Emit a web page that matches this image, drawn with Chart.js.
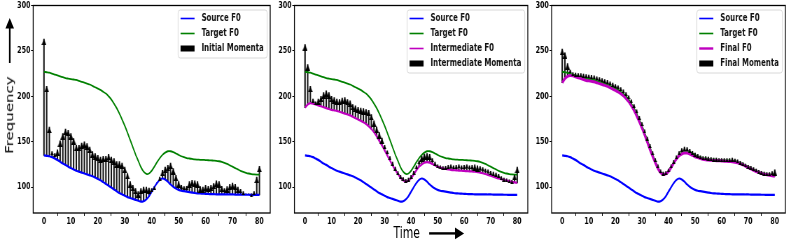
<!DOCTYPE html>
<html>
<head>
<meta charset="utf-8">
<script src="https://cdn.jsdelivr.net/npm/chart.js@4.4.1/dist/chart.umd.min.js"></script>
<style>
  html, body { margin: 0; padding: 0; background: #fff; overflow: hidden; }
  /* the figure is laid out wide and squeezed horizontally, like the original */
  #fig { position: absolute; left: 0; top: 0; width: 1127px; height: 245px;
         transform: scaleX(0.7); transform-origin: 0 0; }
  #fig canvas { position: absolute; top: 0; }
  .lbl { position: absolute; font-family: 'DejaVu Sans', sans-serif; color: #000;
         white-space: nowrap; line-height: 1; }
  #ylab { left: 13.9px; top: 115px; font-size: 15px; transform: translate(-50%, -50%) rotate(-90deg); }
  #xlab { left: 562px; top: 226.2px; font-size: 15.5px; }
</style>
</head>
<body>
<div id="fig">
  <canvas id="c1" width="391" height="245" style="left:0px"></canvas>
  <canvas id="c2" width="367" height="245" style="left:392px"></canvas>
  <canvas id="c3" width="367" height="245" style="left:760px"></canvas>
  <div class="lbl" id="ylab">Frequency</div>
  <div class="lbl" id="xlab">Time</div>
  <svg width="1127" height="245" style="position:absolute;left:0;top:0">
    <line x1="13.9" y1="63" x2="13.9" y2="27" stroke="#000" stroke-width="2.4"/>
    <polygon points="13.9,18 20,28.5 7.8,28.5" fill="#000"/>
    <line x1="613" y1="233.4" x2="651" y2="233.4" stroke="#000" stroke-width="2.4"/>
    <polygon points="663,233.4 650,227.6 650,239.2" fill="#000"/>
  </svg>
</div>
<script>
const X_TICKS = [0, 10, 20, 30, 40, 50, 60, 70, 80];
const Y_TICKS = [100, 150, 200, 250, 300];

const SOURCE_F0 = [
  135, 134.5, 134, 133, 131.5, 130, 128, 126, 124.5, 122.5,
  121, 119.5, 118, 117, 116, 115, 114, 113, 112, 110.5,
  109, 107.5, 105.5, 103.5, 101.5, 99.5, 97.5, 95.5, 93.5, 92,
  90.5, 89, 88, 87, 86, 85, 84, 84.5, 86.5, 90,
  95, 100, 104.5, 108, 109.5, 108.5, 106, 103, 100.5, 98.5,
  97, 96, 95.5, 95, 94.5, 94, 93.5, 93.2, 93, 92.8,
  92.6, 92.4, 92.3, 92.2, 92.1, 92, 92, 92, 92, 91.9,
  91.9, 91.8, 91.8, 91.7, 91.7, 91.6, 91.6, 91.5, 91.5, 91.5,
  91.5];

const TARGET_F0 = [
  227, 226.5, 226, 225, 224, 223, 222, 221, 220, 219.5,
  219, 218.5, 218, 217, 216, 215, 214, 213, 211.5, 210,
  208.5, 207, 205, 203, 200, 196.5, 192, 187, 181, 174.5,
  167.5, 160, 152, 144, 136, 129, 122, 117, 114.5, 115,
  118, 122.5, 127.5, 132, 135.5, 138, 139.5, 139.5, 138.5, 137,
  135.5, 134, 133, 132, 131.5, 131, 130.5, 130.3, 130.1, 130,
  129.8, 129.6, 129.4, 129.2, 129, 128.5, 127.8, 126.8, 125.5, 124,
  122.5, 121, 119.5, 118, 116.8, 115.8, 115, 114.4, 114, 113.8,
  113.7];

const INTERMEDIATE_F0 = [
  187.5, 191, 192.5, 192, 191, 190, 189, 188, 187, 186,
  185, 184.5, 184, 183, 182, 181, 180, 179, 177.5, 176,
  174.5, 173, 171.5, 169.5, 167, 164, 160.5, 156, 151, 146,
  140.5, 135, 129.5, 124, 119, 114.5, 110.5, 107.5, 106, 107,
  110, 114, 118.5, 122.5, 125, 127, 127.5, 127, 125.5, 124,
  122.5, 121.5, 120.5, 120, 119.5, 119, 118.7, 118.5, 118.2, 118,
  117.8, 117.6, 117.4, 117.2, 117, 116.5, 116, 115.3, 114.5, 113.5,
  112.5, 111.5, 110.5, 109.5, 108.7, 108, 107.2, 106.5, 105.8, 105.2,
  104.7];

const FINAL_F0 = [
  215, 219.5, 222, 223, 222.5, 221.5, 220.5, 219.5, 218.5, 217.5,
  217, 216.5, 216, 215, 214, 213, 212, 211, 209.5, 208,
  206.5, 205, 203, 200.5, 197.5, 194, 189.5, 184.5, 178.5, 172,
  165, 157.5, 149.5, 141.5, 134, 127, 120.5, 116, 114, 114.5,
  117, 121.5, 126.5, 131, 134.5, 136.5, 137.5, 137.5, 136.5, 135,
  133.5, 132.5, 131.5, 130.7, 130.2, 129.8, 129.5, 129.3, 129.1, 129,
  128.8, 128.6, 128.4, 128.2, 128, 127.5, 126.8, 125.8, 124.5, 123,
  121.5, 120, 118.5, 117, 116, 115, 114.2, 113.6, 113, 112.5,
  112];

// arrow tip values (F0 + momentum) for each panel
const INITIAL_TIPS = [
  263, 211, 166, 139, 137, 141, 151, 159, 164, 162.5,
  159, 153.5, 146, 146, 148.5, 150, 148, 144, 139, 137,
  135, 133, 134, 134, 136, 133, 131.5, 128, 128, 126.5,
  122, 115, 106, 102, 98.5, 95, 98.5, 100, 100, 99,
  98.5, 101, 105, 111, 118.5, 122, 124, 126.5, 120.5, 113,
  106, 102, 100.5, 101, 106, 107.5, 107, 106, 100.5, 100,
  102, 101, 102, 104, 107, 106, 101, 98.5, 100.5, 103,
  104.5, 103, 100, 97.5, 95, 92.5, 92.5, 92.5, 95, 111,
  123];

const INTERMEDIATE_TIPS = [
  257, 235, 211, 197, 194, 197, 200, 204, 206, 204,
  200, 198.5, 197, 196.5, 198, 198.5, 196.5, 195, 191, 189.5,
  188, 187, 186.5, 185.5, 184.5, 180, 173, 166, 160, 154,
  146, 140, 133.5, 127.5, 122, 117, 113, 110.5, 108.5, 110,
  113, 117.5, 123.5, 129, 134.5, 136.5, 137, 136, 131.5, 127.5,
  124.5, 123.5, 122.5, 123, 124, 124.5, 123.5, 124, 124.5, 123.5,
  124, 124.5, 123.5, 124, 124.5, 123.5, 122.5, 121.5, 120, 119,
  117.5, 116.5, 115.5, 114, 111.5, 110, 109, 108, 107.5, 114,
  122];

const FINAL_TIPS = [
  252, 248, 236, 229, 226, 225.5, 225, 225, 224.5, 224,
  223.5, 223, 222.5, 221.5, 220.5, 219.5, 218.5, 217.5, 216, 214.5,
  213, 211.5, 209.5, 207, 204, 200.5, 196, 191, 185, 178,
  171, 163, 155, 147, 139, 131.5, 124.5, 119, 116.5, 117,
  120, 124.5, 129.5, 134.5, 139, 142.5, 144, 143.5, 141.5, 139.5,
  137.5, 136, 134.5, 133.5, 133.5, 133, 132.5, 132, 132, 131.5,
  131.5, 131.5, 131.5, 131.5, 132, 131, 130, 128.5, 127, 125.5,
  124, 123, 121.5, 120, 118.5, 117.5, 116.5, 116, 116, 117,
  119];

const FRAMES = SOURCE_F0.map((_, i) => i);

const LEGEND_1 = ['Source F0', 'Target F0', 'Initial Momenta'];
const LEGEND_2 = ['Source F0', 'Target F0', 'Intermediate F0', 'Intermediate Momenta'];
const LEGEND_3 = ['Source F0', 'Target F0', 'Final F0', 'Final Momenta'];

const BLUE = '#0000ff';
const GREEN = '#008000';
const MAGENTA = '#bf00bf';
const STEM = '#151515';

const TICK_FONT = { family: "'DejaVu Sans', sans-serif", size: 9, weight: 'bold', lineHeight: 1 };

function makeHead(w, h) {
  const c = document.createElement('canvas');
  c.width = w; c.height = 2 * h;
  const g = c.getContext('2d');
  g.fillStyle = '#000';
  g.beginPath();
  g.moveTo(w / 2, h);
  g.lineTo(w, 2 * h);
  g.lineTo(0, 2 * h);
  g.closePath();
  g.fill();
  return c;
}
const BIG_HEAD = makeHead(7, 6);
const SMALL_HEAD = makeHead(5, 3.5);

const figLegend = {
  id: 'figLegend',
  afterDraw(chart, args, opts) {
    const { ctx, chartArea: a } = chart;
    const items = opts.items;
    ctx.save();
    ctx.strokeStyle = '#000';
    ctx.lineWidth = 1.3;
    ctx.strokeRect(a.left, a.top, a.right - a.left, a.bottom - a.top);

    ctx.font = "bold 10px 'DejaVu Sans'";
    const textW = Math.max(...items.map(it => ctx.measureText(it.text).width));
    const padL = 3.5, handleW = 20, gap = 10, padR = 5, rowH = 15;
    const w = padL + handleW + gap + textW + padR;
    const right = a.right - 4.3;
    const left = right - w;
    const top = a.top + 4.5;
    const h = 8.5 + (items.length - 1) * rowH + 9.5;
    ctx.fillStyle = 'rgba(255,255,255,0.85)';
    ctx.strokeStyle = '#d8d8d8';
    ctx.lineWidth = 1;
    ctx.beginPath();
    ctx.roundRect(left, top, w, h, 3);
    ctx.fill();
    ctx.stroke();

    items.forEach((it, i) => {
      const y = top + 8.5 + i * rowH;
      const hx = left + padL;
      if (it.kind === 'line') {
        ctx.strokeStyle = it.color;
        ctx.lineWidth = it.width;
        ctx.beginPath();
        ctx.moveTo(hx, y);
        ctx.lineTo(hx + handleW, y);
        ctx.stroke();
      } else {
        ctx.fillStyle = '#000';
        ctx.fillRect(hx, y - 3, handleW, 6);
      }
      ctx.fillStyle = '#111';
      ctx.textBaseline = 'middle';
      ctx.textAlign = 'left';
      ctx.fillText(it.text, hx + handleW + gap, y);
    });
    ctx.restore();
  }
};

function panel(id, axisW, padRight, lines, base, tips, labels) {
  const datasets = [];
  datasets.push({
    type: 'bar',
    data: FRAMES.map((t, i) => ({ x: t, y: [base[i], tips[i]] })),
    backgroundColor: STEM,
    borderWidth: 0,
    barThickness: 1.4,
    order: 9
  });
  lines.forEach((l, k) => {
    datasets.push({
      type: 'line',
      data: FRAMES.map((t, i) => ({ x: t, y: l.values[i] })),
      borderColor: l.color,
      borderWidth: l.width,
      pointRadius: 0,
      tension: 0.2,
      order: 8 - k
    });
  });
  const len = c => tips[c.dataIndex] - base[c.dataIndex];
  datasets.push({
    type: 'scatter',
    data: FRAMES.map((t, i) => ({ x: t, y: tips[i] })),
    pointRadius: c => (len(c) < 1 ? 0 : 3),
    pointStyle: c => (len(c) < 7 ? SMALL_HEAD : BIG_HEAD),
    order: 0
  });

  const items = lines.map((l, k) => ({ kind: 'line', text: labels[k], color: l.color, width: l.legendWidth }));
  items.push({ kind: 'rect', text: labels[labels.length - 1] });

  new Chart(document.getElementById(id), {
    type: 'line',
    data: { datasets },
    plugins: [figLegend],
    options: {
      responsive: false,
      animation: false,
      events: [],
      layout: { padding: { left: 0, right: padRight, top: 0, bottom: 0 } },
      plugins: {
        legend: { display: false },
        tooltip: { enabled: false },
        figLegend: { items }
      },
      scales: {
        x: {
          type: 'linear', min: -4, max: 84, offset: false,
          afterBuildTicks: s => { s.ticks = X_TICKS.map(v => ({ value: v })); },
          afterFit: s => { s.height = 32; },
          grid: { drawOnChartArea: false, drawTicks: true, tickLength: 3, color: '#000' },
          border: { display: false },
          ticks: { font: TICK_FONT, color: '#000', padding: 1, maxRotation: 0, autoSkip: false }
        },
        y: {
          type: 'linear', min: 71.5, max: 300,
          afterBuildTicks: s => { s.ticks = Y_TICKS.map(v => ({ value: v })); },
          afterFit: s => { s.width = axisW; },
          grid: { drawOnChartArea: false, drawTicks: true, tickLength: 3, color: '#000' },
          border: { display: false },
          ticks: { font: TICK_FONT, color: '#000', padding: 1 }
        }
      }
    }
  });
}

panel('c1', 47.4, 4.1, [
  { values: SOURCE_F0, color: BLUE, width: 2.2, legendWidth: 1.6 },
  { values: TARGET_F0, color: GREEN, width: 1.8, legendWidth: 1.6 }
], SOURCE_F0, INITIAL_TIPS, LEGEND_1);

panel('c2', 28.6, 3.4, [
  { values: SOURCE_F0, color: BLUE, width: 2.2, legendWidth: 1.6 },
  { values: TARGET_F0, color: GREEN, width: 1.8, legendWidth: 1.6 },
  { values: INTERMEDIATE_F0, color: MAGENTA, width: 2.2, legendWidth: 1.6 }
], INTERMEDIATE_F0, INTERMEDIATE_TIPS, LEGEND_2);

panel('c3', 28, 4.1, [
  { values: SOURCE_F0, color: BLUE, width: 2.2, legendWidth: 1.6 },
  { values: TARGET_F0, color: GREEN, width: 1.8, legendWidth: 1.6 },
  { values: FINAL_F0, color: MAGENTA, width: 3, legendWidth: 2.4 }
], FINAL_F0, FINAL_TIPS, LEGEND_3);
</script>
</body>
</html>
